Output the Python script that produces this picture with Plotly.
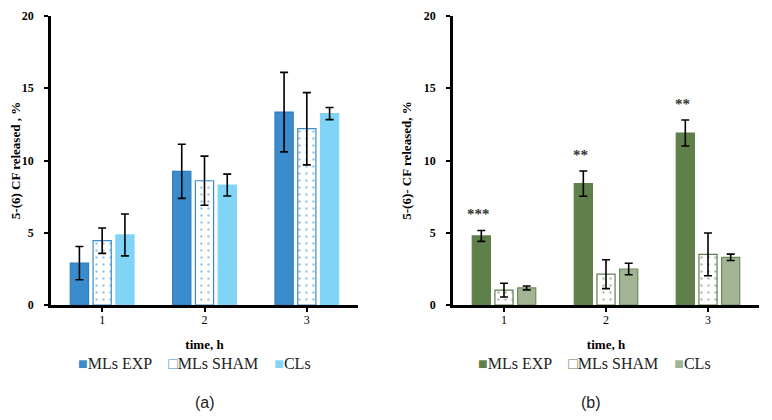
import plotly.graph_objects as go

# time points (h)
times = [1, 2, 3]
groups = ["MLs EXP", "MLs SHAM", "CLs"]

# panel (a) - 5-(6) CF released, %
a_exp = [2.9, 9.25, 13.35]
a_exp_err = [1.15, 1.87, 2.75]
a_sham = [4.45, 8.6, 12.2]
a_sham_err = [0.88, 1.7, 2.5]
a_cls = [4.85, 8.3, 13.25]
a_cls_err = [1.45, 0.76, 0.42]

# panel (b)
b_exp = [4.78, 8.4, 11.9]
b_exp_err = [0.38, 0.87, 0.9]
b_sham = [1.03, 2.13, 3.5]
b_sham_err = [0.48, 1.0, 1.48]
b_cls = [1.18, 2.49, 3.3]
b_cls_err = [0.13, 0.4, 0.22]
b_stars = ["***", "**", "**"]

SERIF = "Liberation Serif"
colors_a = [("#3a8ccc", "#2c7dc0"), ("white", "#3a8ccc"), ("#80d5f7", "#80d5f7")]
colors_b = [("#5f7f4b", "#5f7f4b"), ("white", "#5f7f4b"), ("#a2b494", "#6f8b5c")]

# the page body adds an 8px margin, so the figure is a bit smaller than the window
W, H, OFF = 756, 404, 8


def fx(px):
    return (px - OFF) / W


def fy(py):
    return 1 - (py - OFF) / H


fig = go.Figure()


def add_bar(name, y, err, fill, line, xaxis, yaxis, dotted=False):
    pattern = dict(shape="")
    if dotted:
        pattern = dict(shape=".", fgcolor=line, bgcolor="white", size=7, solidity=0.1)
    fig.add_trace(go.Bar(
        x=times, y=y, name=name,
        xaxis=xaxis, yaxis=yaxis, showlegend=False,
        marker=dict(color=fill, line=dict(color=line, width=1.2), pattern=pattern),
        error_y=dict(type="data", array=err, color="black", thickness=1.6, width=4),
        hoverinfo="skip",
    ))


for name, vals, errs, (fill, line), dotted in zip(
        groups, [a_exp, a_sham, a_cls], [a_exp_err, a_sham_err, a_cls_err],
        colors_a, [False, True, False]):
    add_bar(name, vals, errs, fill, line, "x", "y", dotted)

for name, vals, errs, (fill, line), dotted in zip(
        groups, [b_exp, b_sham, b_cls], [b_exp_err, b_sham_err, b_cls_err],
        colors_b, [False, True, False]):
    add_bar(name, vals, errs, fill, line, "x2", "y2", dotted)

# significance marks above MLs EXP bars
for t, v, e, s in zip(times, b_exp, b_exp_err, b_stars):
    fig.add_annotation(
        x=t - 0.25, y=v + e + 0.45, xref="x2", yref="y2", text=f"<b>{s}</b>",
        showarrow=False, yanchor="bottom",
        font=dict(family=SERIF, size=15, color="#333333"),
    )

tick_font = dict(family=SERIF, size=12, color="black")
title_font = dict(family=SERIF, size=13, color="black")
axis_common = dict(
    showline=True, linecolor="black", linewidth=2.6,
    ticks="outside", tickcolor="black", tickwidth=2, ticklen=4,
    showgrid=False, zeroline=False, automargin=False,
    tickfont=tick_font, tickprefix="<b>", ticksuffix="</b>",
)

xdom_a = [fx(51), fx(358)]
xdom_b = [fx(453), fx(759)]
ydom = [fy(305), fy(16)]

fig.update_layout(
    width=W, height=H,
    margin=dict(l=0, r=0, t=0, b=0, autoexpand=False),
    paper_bgcolor="white", plot_bgcolor="white",
    barmode="group", bargap=0.333, bargroupgap=0.2,
    showlegend=False,
    xaxis=dict(domain=xdom_a, anchor="y", range=[0.5, 3.5], tickvals=times,
               ticklabelstandoff=-2,
               title=dict(text="<b>time, h</b>", standoff=14, font=title_font),
               **axis_common),
    yaxis=dict(domain=ydom, anchor="x", range=[0, 20], dtick=5,
               ticklabelstandoff=8,
               title=dict(text="<b>5-(6) CF released , %</b>", standoff=10, font=title_font),
               **axis_common),
    xaxis2=dict(domain=xdom_b, anchor="y2", range=[0.5, 3.5], tickvals=times,
                ticklabelstandoff=-2,
                title=dict(text="<b>time, h</b>", standoff=14, font=title_font),
                **axis_common),
    yaxis2=dict(domain=ydom, anchor="x2", range=[0, 20], dtick=5,
                ticklabelstandoff=8,
                title=dict(text="<b>5-(6)- CF released, %</b>", standoff=10, font=title_font),
                **axis_common),
)


# legend rows under each panel
def legend_text(cols):
    sym = ["■", "□", "■"]
    parts = []
    for g, s, (fill, line) in zip(groups, sym, cols):
        c = line if s == "□" else fill
        parts.append(f"<span style='color:{c}'>{s}</span>{g}")
    return "&nbsp;&nbsp;&nbsp;&nbsp;".join(parts)


for cols, cx in [(colors_a, 194), (colors_b, 594)]:
    fig.add_annotation(
        x=fx(cx), y=fy(363), xref="paper", yref="paper",
        xanchor="center", yanchor="middle",
        text=legend_text(cols), showarrow=False,
        font=dict(family="Liberation Serif, DejaVu Sans", size=16, color="#222222"),
    )

for lbl, cx in [("(a)", 205), ("(b)", 591)]:
    fig.add_annotation(
        x=fx(cx), y=fy(402), xref="paper", yref="paper",
        xanchor="center", yanchor="middle", text=lbl,
        showarrow=False, font=dict(family="Liberation Sans", size=16, color="#222222"),
    )

fig.write_html("out.html")
